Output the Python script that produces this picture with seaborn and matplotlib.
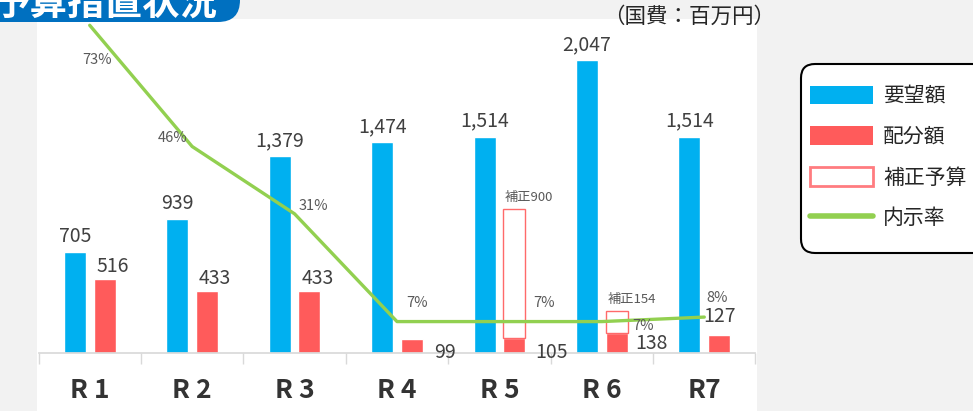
import matplotlib
matplotlib.use("Agg")
import matplotlib.pyplot as plt
import seaborn as sns
import pandas as pd
import numpy as np
from matplotlib.patches import Rectangle, FancyBboxPatch, Patch
from matplotlib.lines import Line2D

# values (million yen / %)
years = ["R 1", "R 2", "R 3", "R 4", "R 5", "R 6", "R7"]
requested = [705, 939, 1379, 1474, 1514, 2047, 1514]
allocated = [516, 433, 433, 99, 105, 138, 127]
supplementary = [0, 0, 0, 0, 900, 154, 0]
rate = [73, 46, 31, 7, 7, 7, 8]

BLUE = "#00B0F0"
RED = "#FF5B5B"
GREEN = "#92D050"
TXT = "#404040"

sns.set_theme(style="white")
plt.rcParams["font.family"] = ["Noto Sans CJK JP", "DejaVu Sans"]

df = pd.DataFrame({
    "year": years * 2,
    "kind": ["要望額"] * len(years) + ["配分額"] * len(years),
    "value": requested + allocated,
})

fig = plt.figure(figsize=(9.73, 4.11), dpi=100, facecolor="#f2f2f2")

# pixel overlay for the white panel, legend box and the title badge
bg = fig.add_axes([0, 0, 1, 1], zorder=-1)
bg.set_xlim(0, 973)
bg.set_ylim(411, 0)
bg.axis("off")
bg.add_patch(Rectangle((37, 19), 720, 400, facecolor="white", edgecolor="none"))

ax = fig.add_axes([38.5 / 973, 58 / 411, 717 / 973, 334 / 411])
ax.set_facecolor("none")
sns.barplot(data=df, x="year", y="value", hue="kind", palette=[BLUE, RED],
            width=0.58, gap=0.26, saturation=1, errorbar=None, legend=False, ax=ax)
ax.set_ylim(0, 2336)
ax.set_xlim(-0.5, 6.5)

blue_bars = ax.containers[0]
red_bars = ax.containers[1]

# supplementary budget boxes stacked on allocated bars
for bar, base, extra in zip(red_bars, allocated, supplementary):
    if extra > 0:
        cx = bar.get_x() + bar.get_width() / 2
        ax.bar(cx, extra, bottom=base, width=bar.get_width(), facecolor="white",
               edgecolor="#FF6A6A", linewidth=1, zorder=2)
        ax.annotate(f"補正{extra}", (cx, base + extra), xytext=(15, 5),
                    textcoords="offset pixels", ha="center", va="bottom",
                    fontsize=9.5, color="#595959")

for bar, v in zip(blue_bars, requested):
    ax.annotate(f"{v:,}", (bar.get_x() + bar.get_width() / 2, v), xytext=(0, 5),
                textcoords="offset pixels", ha="center", va="bottom",
                fontsize=14, color=TXT)

red_offsets = [(8, 2, "center", "bottom"), (8, 2, "center", "bottom"), (8, 2, "center", "bottom"),
               (11, 1, "left", "center"), (10, 1, "left", "center"), (8, 10, "left", "center"),
               (0, 8, "center", "bottom")]
for bar, v, (dx, dy, ha, va) in zip(red_bars, allocated, red_offsets):
    if ha == "left":
        xy = (bar.get_x() + bar.get_width(), 0)
    else:
        xy = (bar.get_x() + bar.get_width() / 2, v)
    ax.annotate(f"{v:,}", xy, xytext=(dx, dy), textcoords="offset pixels",
                ha=ha, va=va, fontsize=14, color=TXT)

for s in ["left", "top", "right"]:
    ax.spines[s].set_visible(False)
ax.spines["bottom"].set_color("#d9d9d9")
ax.set_yticks([])
ax.set_xlabel("")
ax.set_ylabel("")
ax.set_xticks(np.arange(-0.5, len(years), 1), minor=True)
ax.tick_params(axis="x", which="minor", bottom=True, length=8, color="#d9d9d9", width=1)
ax.tick_params(axis="x", which="major", length=0, pad=17, labelsize=19, labelcolor="#333333")
for lab in ax.get_xticklabels():
    lab.set_fontweight("bold")

# rate line on its own scale
ax2 = ax.twinx()
ax2.set_facecolor("none")
sns.lineplot(x=np.arange(len(years)), y=rate, color=GREEN, linewidth=2.4, ax=ax2)
ax2.set_ylim(0, 74.4)
ax.set_xlim(-0.5, 6.5)
ax2.set_yticks([])
for s in ax2.spines.values():
    s.set_visible(False)

pct_offsets = [(7, -35), (-20, 8), (19, 8), (20, 19), (45, 19), (41, -4), (13, 19)]
for i, (r, (dx, dy)) in enumerate(zip(rate, pct_offsets)):
    ax2.annotate(f"{r}%", (i, r), xytext=(dx, dy), textcoords="offset pixels",
                 ha="center", va="center", fontsize=10.5, color="#595959")

# title badge (cut off at the top, as in the source)
badge = FancyBboxPatch((-40, -40), 280, 62, boxstyle="round,pad=0,rounding_size=22",
                       facecolor="#0070C0", edgecolor="none", transform=bg.transData)
fig.patches.append(badge)
fig.text(105 / 973, 1 - 3 / 411, "予算措置状況", ha="center", va="center",
         fontsize=27, fontweight="bold", color="white")

fig.text(689 / 973, 1 - 17 / 411, "（国費：百万円）", ha="center", va="center",
         fontsize=15.5, color="#262626")

# legend: rounded box drawn by hand, entries by matplotlib
bg.add_patch(FancyBboxPatch((801, 64), 190, 189, boxstyle="round,pad=0,rounding_size=14",
                            facecolor="white", edgecolor="black", linewidth=1.5))
handles = [
    Patch(facecolor=BLUE, edgecolor="none", label="要望額"),
    Patch(facecolor=RED, edgecolor="none", label="配分額"),
    Patch(facecolor="white", edgecolor="#FF7C80", linewidth=2, label="補正予算"),
    Line2D([0], [0], color=GREEN, linewidth=4, label="内示率"),
]
leg = fig.legend(handles=handles, loc="upper left", bbox_to_anchor=(810 / 973, 1 - 85 / 411),
                 fontsize=15, handlelength=3.0, handleheight=1.0, labelspacing=0.9,
                 handletextpad=0.5, borderpad=0, borderaxespad=0, frameon=False,
                 labelcolor="#262626")

fig.savefig("out.png", dpi=100, facecolor=fig.get_facecolor())
